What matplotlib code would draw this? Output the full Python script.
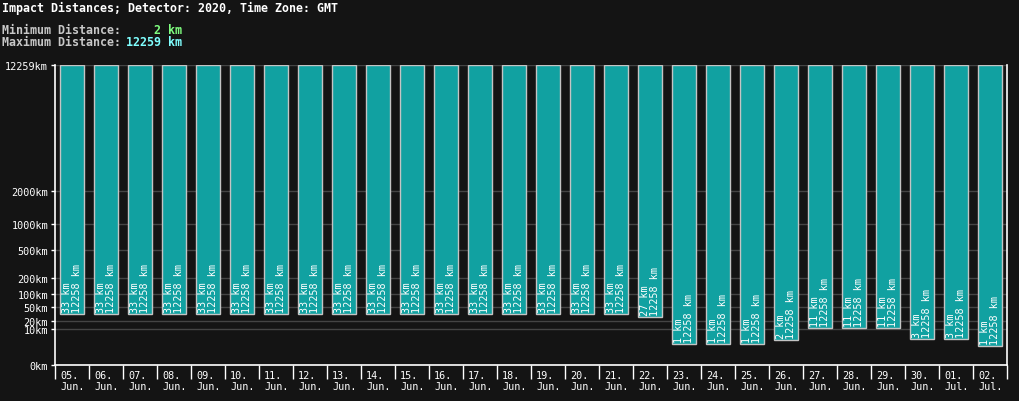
import numpy as np
import matplotlib
matplotlib.use("Agg")
import matplotlib.pyplot as plt
from matplotlib import transforms

# ---- data ----
dates = ["05.\nJun.", "06.\nJun.", "07.\nJun.", "08.\nJun.", "09.\nJun.", "10.\nJun.",
         "11.\nJun.", "12.\nJun.", "13.\nJun.", "14.\nJun.", "15.\nJun.", "16.\nJun.",
         "17.\nJun.", "18.\nJun.", "19.\nJun.", "20.\nJun.", "21.\nJun.", "22.\nJun.",
         "23.\nJun.", "24.\nJun.", "25.\nJun.", "26.\nJun.", "27.\nJun.", "28.\nJun.",
         "29.\nJun.", "30.\nJun.", "01.\nJul.", "02.\nJul."]
min_km = [33, 33, 33, 33, 33, 33, 33, 33, 33, 33, 33, 33, 33, 33, 33, 33, 33, 27,
          1.6, 1.6, 1.6, 2.9, 11.3, 11.3, 11.3, 3.5, 3.5, 1.2]
max_km = [12258] * 28
y_ticks = [0, 10, 20, 50, 100, 200, 500, 1000, 2000, 12259]
overall_min = 2
overall_max = 12259

BG = "#141414"
BAR = "#11a1a1"
EDGE = "#c4c4c4"
GRID = "#444444"
MONO = "DejaVu Sans Mono"

fig = plt.figure(figsize=(10.19, 4.02), dpi=100, facecolor=BG)
ax = fig.add_axes([55 / 1019, 36 / 402, (1007 - 55) / 1019, (366 - 66) / 402])
ax.set_facecolor(BG)

P = 0.3
ax.set_yscale("function", functions=(lambda v: np.power(np.maximum(v, 0), P),
                                     lambda v: np.power(np.maximum(v, 0), 1 / P)))
ax.set_ylim(0, overall_max)
n = len(dates)
ax.set_xlim(-0.5, n - 0.5)

x = np.arange(n)
heights = [mx - mn for mn, mx in zip(min_km, max_km)]
ax.bar(x, heights, bottom=min_km, width=0.70, color=BAR, edgecolor=EDGE,
       linewidth=1.0, zorder=3)

# in-bar labels
for xi, mn, mx in zip(x, min_km, max_km):
    tr = transforms.offset_copy(ax.transData, fig=fig, x=0, y=2, units="dots")
    ax.text(xi, mn, f"{int(mn)} km\n{int(mx)} km", rotation=90, ha="center",
            va="bottom", multialignment="left", color="white", fontsize=7.3,
            family=MONO, linespacing=1.05, transform=tr, zorder=4)

# y axis
ax.set_yticks(y_ticks)
ax.set_yticklabels([f"{v}km" for v in y_ticks], family=MONO, fontsize=7.3, color="white")
ax.tick_params(axis="y", colors="white", length=3, width=1, pad=2)
ax.yaxis.grid(True, color=GRID, linewidth=1)
ax.set_axisbelow(True)

# x axis: ticks at boundaries, labels left-aligned after tick
ax.set_xticks(np.arange(-0.5, n, 1.0))
ax.set_xticklabels([])
ax.tick_params(axis="x", colors="white", length=10, width=1, direction="out")
lbl_tr = transforms.offset_copy(ax.get_xaxis_transform(), fig=fig, x=5, y=-5, units="dots")
for xi, d in zip(x, dates):
    ax.text(xi - 0.5, 0, d, ha="left", va="top", color="white", fontsize=7.3,
            family=MONO, linespacing=1.15, transform=lbl_tr)

for s in ["left", "bottom", "right"]:
    ax.spines[s].set_color("white")
    ax.spines[s].set_linewidth(1.2)
ax.spines["top"].set_visible(False)

# header texts
fs = 8.4
fig.text(2 / 1019, 1 - 8 / 402, "Impact Distances; Detector: 2020, Time Zone: GMT",
         color="white", fontsize=fs, family=MONO, weight="bold", va="center", ha="left")
fig.text(2 / 1019, 1 - 31 / 402, "Minimum Distance:", color="#c8c8c8", fontsize=fs,
         family=MONO, weight="bold", va="center", ha="left")
fig.text(2 / 1019, 1 - 43 / 402, "Maximum Distance:", color="#c8c8c8", fontsize=fs,
         family=MONO, weight="bold", va="center", ha="left")
fig.text(182 / 1019, 1 - 31 / 402, f"{overall_min} km", color="#80ff80", fontsize=fs,
         family=MONO, weight="bold", va="center", ha="right")
fig.text(182 / 1019, 1 - 43 / 402, f"{overall_max} km", color="#80ffff", fontsize=fs,
         family=MONO, weight="bold", va="center", ha="right")

fig.savefig("out.png", dpi=100, facecolor=BG)
